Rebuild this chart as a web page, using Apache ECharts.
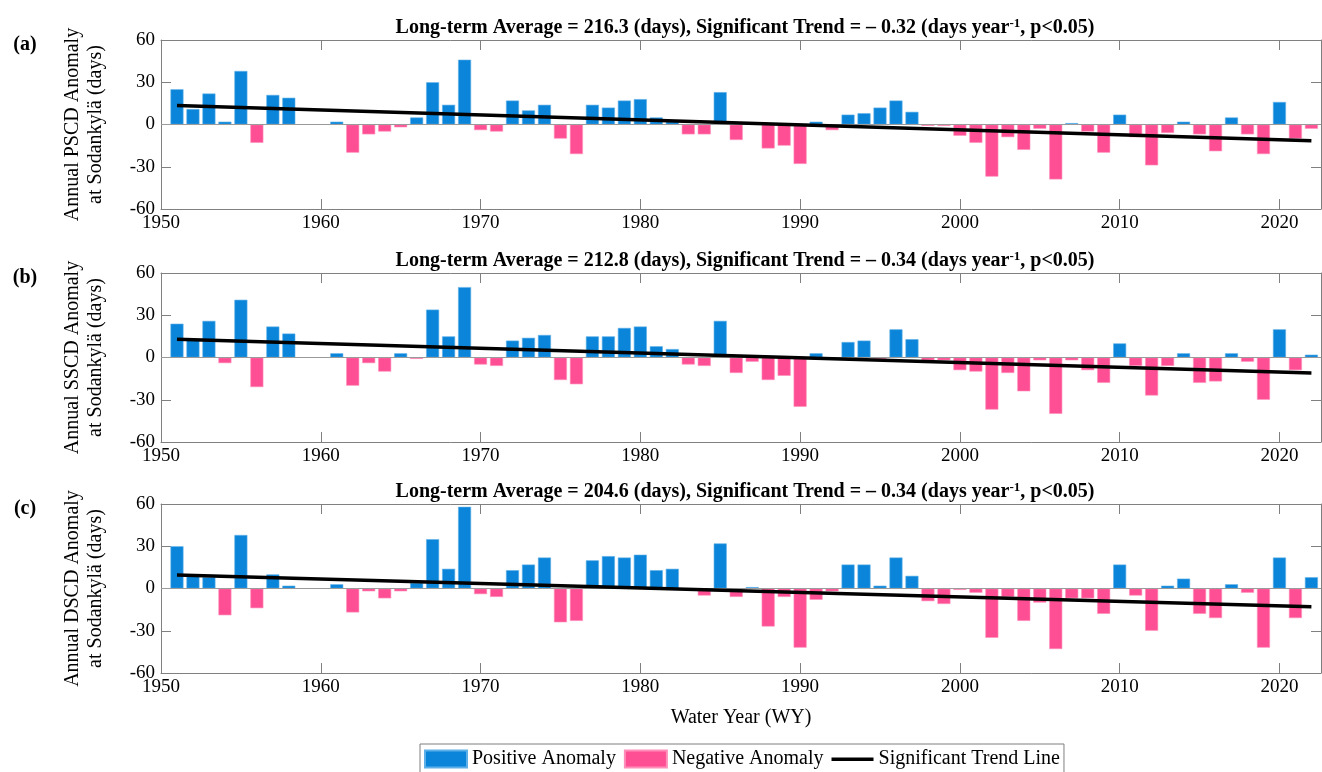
<!DOCTYPE html>
<html><head><meta charset="utf-8">
<script src="https://cdn.jsdelivr.net/npm/echarts@6/dist/echarts.min.js"></script>
<style>html,body{margin:0;padding:0;background:#fff}#c{width:1322px;height:772px}</style>
</head><body><div id="c"></div>
<script>
// ---- data ----
const years = [1951,1952,1953,1954,1955,1956,1957,1958,1959,1960,
  1961,1962,1963,1964,1965,1966,1967,1968,1969,1970,
  1971,1972,1973,1974,1975,1976,1977,1978,1979,1980,
  1981,1982,1983,1984,1985,1986,1987,1988,1989,1990,
  1991,1992,1993,1994,1995,1996,1997,1998,1999,2000,
  2001,2002,2003,2004,2005,2006,2007,2008,2009,2010,
  2011,2012,2013,2014,2015,2016,2017,2018,2019,2020,
  2021,2022];
const pscd = [25,11,22,2,38,-13,21,19,0,0,
  2,-20,-7,-5,-2,5,30,14,46,-4,
  -5,17,10,14,-10,-21,14,12,17,18,
  5,2,-7,-7,23,-11,0,-17,-15,-28,
  2,-4,7,8,12,17,9,-1,-1,-8,
  -13,-37,-9,-18,-3,-39,1,-5,-20,7,
  -9,-29,-6,2,-7,-19,5,-7,-21,16,
  -10,-3];
const sscd = [24,13,26,-4,41,-21,22,17,0,0,
  3,-20,-4,-10,3,-1,34,15,50,-5,
  -6,12,14,16,-16,-19,15,15,21,22,
  8,6,-5,-6,26,-11,-3,-16,-13,-35,
  3,-1,11,12,-1,20,13,-2,-2,-9,
  -10,-37,-11,-24,-2,-40,-2,-9,-18,10,
  -6,-27,-6,3,-18,-17,3,-3,-30,20,
  -9,2];
const dscd = [30,9,8,-19,38,-14,10,2,0,0,
  3,-17,-2,-7,-2,4,35,14,58,-4,
  -6,13,17,22,-24,-23,20,23,22,24,
  13,14,0,-5,32,-6,1,-27,-6,-42,
  -8,-2,17,17,2,22,9,-9,-11,-1,
  -3,-35,-6,-23,-10,-43,-7,-7,-18,17,
  -5,-30,2,7,-18,-21,3,-3,-42,22,
  -21,8];
const trendYears = [1951, 2022];
const pscdTrend = [13.5, -11.5];
const sscdTrend = [13, -11];
const dscdTrend = [9.5, -13];
const xTicks = [1950,1960,1970,1980,1990,2000,2010,2020];
const panelLabels = ['(a)','(b)','(c)'];
const yNames = ['Annual PSCD Anomaly\nat Sodankylä (days)','Annual SSCD Anomaly\nat Sodankylä (days)','Annual DSCD Anomaly\nat Sodankylä (days)'];
const averages = ['216.3','212.8','204.6'];
const trends = ['0.32','0.34','0.34'];

// ---- layout / style ----
const FONT = '"Liberation Serif", "Times New Roman", serif';
const BLUE = '#0a85da', PINK = '#ff4f94', FRAME = '#808080';
const tops = [40, 273, 504], H = 169, LEFT = 161, RIGHT = 1;
const values = [pscd, sscd, dscd];
const trendVals = [pscdTrend, sscdTrend, dscdTrend];

const grid = [], xAxis = [], yAxis = [], series = [], graphic = [];
const plotCenter = LEFT + (1322 - LEFT - RIGHT) / 2;

for (let i = 0; i < 3; i++) {
  grid.push({left: LEFT, right: RIGHT, top: tops[i], height: H});
  const xBase = {type:'value', gridIndex:i, min:1950, max:2022.6, interval:10,
    axisLine:{show:true, onZero:false, lineStyle:{color:FRAME, width:1}},
    axisTick:{show:true, inside:true, length:10, lineStyle:{color:FRAME}, customValues: xTicks},
    splitLine:{show:false}};
  xAxis.push(Object.assign({}, xBase, {position:'bottom',
    axisLabel:{show:true, color:'#000', fontFamily:FONT, fontSize:19, margin:5, customValues: xTicks,
      formatter: v => (v % 10 === 0 ? String(v) : '')}}));
  xAxis.push(Object.assign({}, xBase, {position:'top', axisLabel:{show:false}}));
  const yBase = {type:'value', gridIndex:i, min:-60, max:60, interval:30,
    axisLine:{show:true, onZero:false, lineStyle:{color:FRAME, width:1}},
    axisTick:{show:true, inside:true, length:10, lineStyle:{color:FRAME}},
    splitLine:{show:false}};
  yAxis.push(Object.assign({}, yBase, {position:'left',
    axisLabel:{show:true, color:'#000', fontFamily:FONT, fontSize:19, margin:6}}));
  yAxis.push(Object.assign({}, yBase, {position:'right', axisLabel:{show:false}}));

  const v = values[i];
  const pos = [], neg = [];
  years.forEach((y, k) => { if (v[k] > 0) pos.push([y, v[k]]); else if (v[k] < 0) neg.push([y, v[k]]); });
  series.push({type:'bar', name:'Positive Anomaly', xAxisIndex:2*i, yAxisIndex:2*i, data:pos,
    barWidth:13, barGap:'-100%', itemStyle:{color:BLUE, borderColor:'#5fb0e8', borderWidth:0.6}, z:2,
    markLine:{silent:true, symbol:'none', label:{show:false}, animation:false,
      lineStyle:{color:'#9a9a9a', width:1, type:'solid'}, data:[{yAxis:0}]}});
  series.push({type:'bar', name:'Negative Anomaly', xAxisIndex:2*i, yAxisIndex:2*i, data:neg,
    barWidth:13, barGap:'-100%', itemStyle:{color:PINK, borderColor:'#ff8fba', borderWidth:0.6}, z:2});
  series.push({type:'line', name:'Significant Trend Line', xAxisIndex:2*i, yAxisIndex:2*i,
    data: trendYears.map((y, k) => [y, trendVals[i][k]]), symbol:'none', showSymbol:false,
    lineStyle:{color:'#000', width:3.5}, itemStyle:{color:'#000'}, z:5});

  graphic.push({type:'text', x:25, y:tops[i] + 5, style:{text:panelLabels[i], font:'bold 20px ' + FONT,
    fill:'#000', align:'center', verticalAlign:'middle'}});
  graphic.push({type:'text', x:84, y:tops[i] + H/2, rotation:Math.PI/2,
    style:{text:yNames[i], font:'20px ' + FONT, fill:'#000', align:'center', verticalAlign:'middle', lineHeight:23}});
  graphic.push({type:'text', x:plotCenter + 4, y:tops[i] - 12,
    style:{text:'{b|Long-term Average = ' + averages[i] + ' (days), Significant Trend = \u2013 ' + trends[i] + ' (days year}{s|-1}{b|, p<0.05)}',
      align:'center', verticalAlign:'middle', fill:'#000',
      rich:{b:{font:'bold 20px ' + FONT, fill:'#000', lineHeight:22},
            s:{font:'bold 13px ' + FONT, fill:'#000', lineHeight:12, verticalAlign:'top', padding:[0,0,3,0]}}}});
}
graphic.push({type:'text', x:plotCenter, y:718, style:{text:'Water Year (WY)', font:'20px ' + FONT,
  fill:'#000', align:'center', verticalAlign:'middle'}});

const chart = echarts.init(document.getElementById('c'));
chart.setOption({
  animation:false,
  backgroundColor:'#fff',
  grid, xAxis, yAxis, series, graphic,
  legend:{data:[{name:'Positive Anomaly', icon:'rect'},{name:'Negative Anomaly', icon:'rect'},
      {name:'Significant Trend Line', icon:'path://M0,0 L0,0 M0,7 L44,7 L44,10.5 L0,10.5 Z M44,17 L44,17'}],
    left:420, top:744, itemWidth:42, itemHeight:17, itemGap:8, padding:[5,4,5,4],
    borderColor:'#7f7f7f', borderWidth:1, selectedMode:false,
    textStyle:{fontFamily:FONT, fontSize:20, color:'#000'}}
});
</script></body></html>
